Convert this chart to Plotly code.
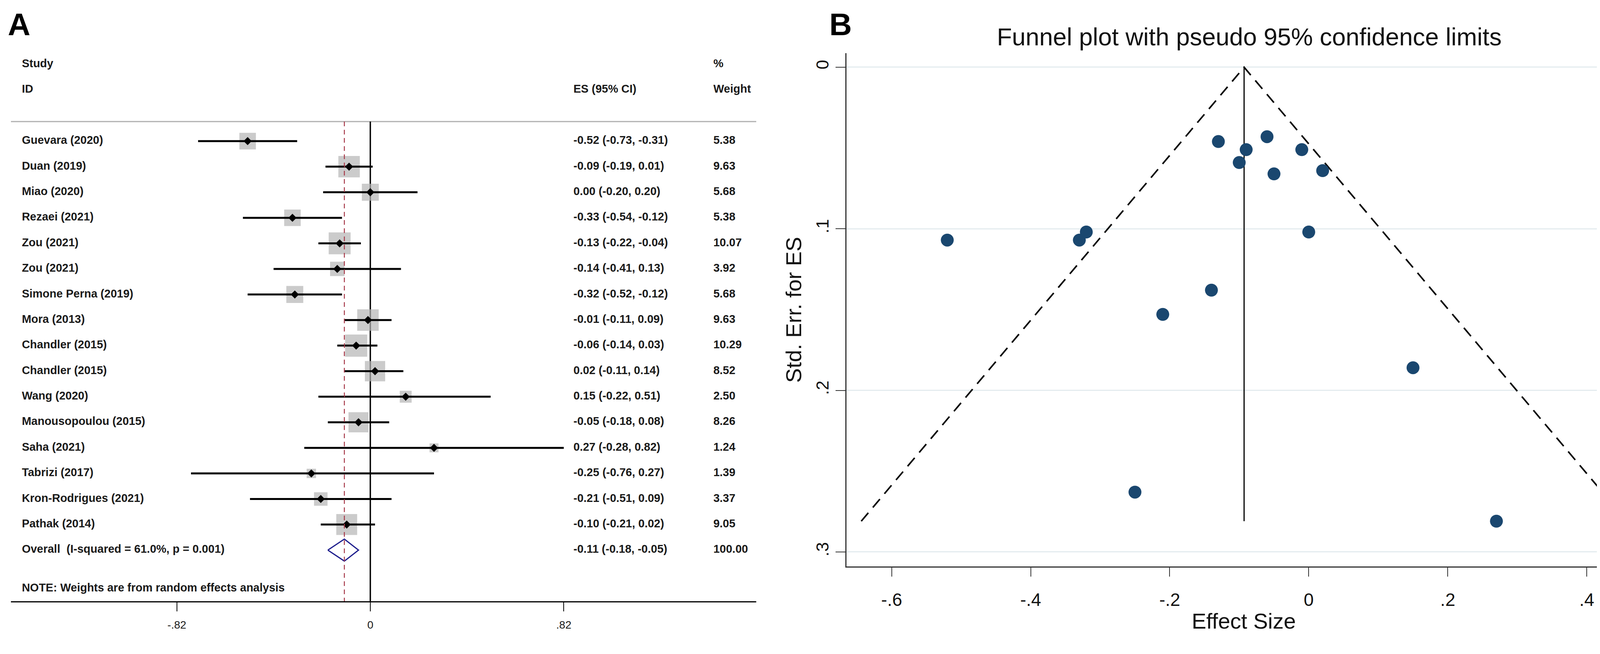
import plotly.graph_objects as go

# ---- data ----
studies = ["Guevara (2020)", "Duan (2019)", "Miao (2020)", "Rezaei (2021)", "Zou (2021)",
           "Zou (2021)", "Simone Perna (2019)", "Mora (2013)", "Chandler (2015)",
           "Chandler (2015)", "Wang (2020)", "Manousopoulou (2015)", "Saha (2021)",
           "Tabrizi (2017)", "Kron-Rodrigues (2021)", "Pathak (2014)"]
es = [-0.52, -0.09, 0.00, -0.33, -0.13, -0.14, -0.32, -0.01, -0.06, 0.02, 0.15, -0.05,
      0.27, -0.25, -0.21, -0.10]
ci_lo = [-0.73, -0.19, -0.20, -0.54, -0.22, -0.41, -0.52, -0.11, -0.14, -0.11, -0.22,
         -0.18, -0.28, -0.76, -0.51, -0.21]
ci_hi = [-0.31, 0.01, 0.20, -0.12, -0.04, 0.13, -0.12, 0.09, 0.03, 0.14, 0.51, 0.08,
         0.82, 0.27, 0.09, 0.02]
weights = [5.38, 9.63, 5.68, 5.38, 10.07, 3.92, 5.68, 9.63, 10.29, 8.52, 2.50, 8.26,
           1.24, 1.39, 3.37, 9.05]
overall_label = "Overall  (I-squared = 61.0%, p = 0.001)"
overall_es, overall_lo, overall_hi, overall_w = -0.11, -0.18, -0.05, 100.00
note_text = "NOTE: Weights are from random effects analysis"

# funnel plot: standard errors, fixed-effect pooled estimate
std_err = [0.107, 0.051, 0.102, 0.107, 0.046, 0.138, 0.102, 0.051, 0.043, 0.064, 0.186,
           0.066, 0.281, 0.263, 0.153, 0.059]
pooled_fixed = -0.093

forest_ticks = [-0.82, 0, 0.82]
forest_ticktext = ["-.82", "0", ".82"]
funnel_xticks = [-0.6, -0.4, -0.2, 0, 0.2, 0.4]
funnel_xticktext = ["-.6", "-.4", "-.2", "0", ".2", ".4"]
funnel_yticks = [0, 0.1, 0.2, 0.3]
funnel_yticktext = ["0", ".1", ".2", ".3"]

W, H = 4235, 1673
FONT = "Arial, Liberation Sans, sans-serif"

def py(px):
    return 1 - px / H

fig = go.Figure()

rows = list(range(len(studies)))
overall_row = len(studies)
note_row = overall_row + 1.5
top_row = -0.765     # grey rule under the column headers
bottom_row = 18.0    # where the axis sits
head_row = -3.6      # top of panel A plotting band

# ---- panel A: forest plot ----
fig.add_trace(go.Scatter(
    x=es, y=rows, mode="markers", xaxis="x", yaxis="y",
    marker=dict(symbol="square", color="#b5b5b5", size=[5 + 16.1 * w ** 0.5 for w in weights],
                line=dict(width=0)),
    hoverinfo="skip", showlegend=False))

ci_x, ci_y = [], []
for r, lo, hi in zip(rows, ci_lo, ci_hi):
    ci_x += [lo, hi, None]
    ci_y += [r, r, None]
fig.add_trace(go.Scatter(x=ci_x, y=ci_y, mode="lines", xaxis="x", yaxis="y",
                         line=dict(color="black", width=5), hoverinfo="skip", showlegend=False))

fig.add_trace(go.Scatter(x=es, y=rows, mode="markers", xaxis="x", yaxis="y",
                         marker=dict(symbol="diamond", color="black", size=16),
                         hoverinfo="skip", showlegend=False))

dh = 0.43
fig.add_trace(go.Scatter(
    x=[overall_lo, overall_es, overall_hi, overall_es, overall_lo],
    y=[overall_row, overall_row - dh, overall_row, overall_row + dh, overall_row],
    mode="lines", xaxis="x", yaxis="y", line=dict(color="#1c1c8c", width=3),
    hoverinfo="skip", showlegend=False))

label_x, es_col_x, w_col_x = -1.477, 0.861, 1.454
txt = dict(size=29, color="#1a1a1a", family=FONT, weight="bold")
left_text = ["Study", "ID"] + studies + [overall_label, note_text]
left_rows = [-3, -2] + rows + [overall_row, note_row]
fig.add_trace(go.Scatter(x=[label_x] * len(left_text), y=left_rows, text=left_text,
                         mode="text", textposition="middle right", textfont=txt,
                         xaxis="x", yaxis="y", cliponaxis=False, hoverinfo="skip",
                         showlegend=False))

es_text = ["ES (95% CI)"] + ["%.2f (%.2f, %.2f)" % (e, l, h) for e, l, h in zip(es, ci_lo, ci_hi)] \
    + ["%.2f (%.2f, %.2f)" % (overall_es, overall_lo, overall_hi)]
fig.add_trace(go.Scatter(x=[es_col_x] * len(es_text), y=[-2] + rows + [overall_row],
                         text=es_text, mode="text", textposition="middle right", textfont=txt,
                         xaxis="x", yaxis="y", cliponaxis=False, hoverinfo="skip",
                         showlegend=False))

w_text = ["%", "Weight"] + ["%.2f" % w for w in weights] + ["%.2f" % overall_w]
fig.add_trace(go.Scatter(x=[w_col_x] * len(w_text), y=[-3, -2] + rows + [overall_row],
                         text=w_text, mode="text", textposition="middle right", textfont=txt,
                         xaxis="x", yaxis="y", cliponaxis=False, hoverinfo="skip",
                         showlegend=False))

# ---- panel B: funnel plot ----
se_max = max(std_err)
fig.add_trace(go.Scatter(x=[pooled_fixed, pooled_fixed], y=[0, se_max], mode="lines",
                         xaxis="x2", yaxis="y2", line=dict(color="black", width=3),
                         hoverinfo="skip", showlegend=False))
fig.add_trace(go.Scatter(
    x=[pooled_fixed - 1.96 * se_max, pooled_fixed, pooled_fixed + 1.96 * se_max],
    y=[se_max, 0, se_max], mode="lines", xaxis="x2", yaxis="y2",
    line=dict(color="black", width=4, dash="28px,18px"), hoverinfo="skip", showlegend=False))
fig.add_trace(go.Scatter(x=es, y=std_err, mode="markers", xaxis="x2", yaxis="y2",
                         marker=dict(color="#1a476f", size=33), hoverinfo="skip",
                         showlegend=False))

shapes = [
    dict(type="line", xref="x domain", yref="y", x0=0, x1=1, y0=top_row, y1=top_row,
         line=dict(color="#b0b0b0", width=3), layer="below"),
    dict(type="line", xref="x", yref="y", x0=0, x1=0, y0=top_row, y1=bottom_row,
         line=dict(color="black", width=3.5), layer="below"),
    dict(type="line", xref="x", yref="y", x0=overall_es, x1=overall_es, y0=top_row,
         y1=bottom_row, line=dict(color="#a83a4a", width=2.5, dash="12px,9px"), layer="above"),
]

annotations = [
    dict(text="<b>A</b>", x=10 / W, y=py(55), xref="paper", yref="paper", xanchor="left",
         yanchor="middle", showarrow=False, font=dict(size=80, family=FONT, color="black")),
    dict(text="<b>B</b>", x=2113 / W, y=py(55), xref="paper", yref="paper", xanchor="left",
         yanchor="middle", showarrow=False, font=dict(size=80, family=FONT, color="black")),
    dict(text="Funnel plot with pseudo 95% confidence limits", x=3190 / W, y=py(86),
         xref="paper", yref="paper", xanchor="center", yanchor="middle", showarrow=False,
         font=dict(size=63, family=FONT, color="#111111")),
]

fig.update_layout(
    width=W, height=H, margin=dict(l=0, r=0, t=0, b=0),
    paper_bgcolor="white", plot_bgcolor="white",
    font=dict(family=FONT, color="black"),
    shapes=shapes, annotations=annotations,
    xaxis=dict(domain=[20 / W, 1928 / W], range=[-1.5232, 1.6358], showgrid=False,
               zeroline=False, showline=True, linecolor="black", linewidth=3,
               tickmode="array", tickvals=forest_ticks, ticktext=forest_ticktext,
               ticks="outside", ticklen=23, tickwidth=2, tickcolor="black",
               tickfont=dict(size=28, color="#1a1a1a"), ticklabelstandoff=10),
    yaxis=dict(domain=[py(1530), py(353 + head_row * 65.4)], range=[bottom_row, head_row],
               visible=False),
    xaxis2=dict(domain=[2159 / W, 4193 / W], range=[-0.665, 0.478], anchor="y2",
                showgrid=False, zeroline=False, showline=True, linecolor="#333333",
                linewidth=3, tickmode="array", tickvals=funnel_xticks,
                ticktext=funnel_xticktext, ticks="outside", ticklen=23, tickwidth=2,
                tickcolor="#333333", tickfont=dict(size=46, color="#111111"),
                ticklabelstandoff=20,
                title=dict(text="Effect Size", font=dict(size=56, color="#111111"),
                           standoff=10)),
    yaxis2=dict(domain=[py(1441), py(128)], range=[0.309, -0.0087], anchor="x2",
                showgrid=True, gridcolor="#e4ecef", gridwidth=3, zeroline=False,
                showline=True, linecolor="#333333", linewidth=3, tickmode="array",
                tickvals=funnel_yticks, ticktext=funnel_yticktext, tickangle=-90,
                ticks="outside", ticklen=25, tickwidth=2, tickcolor="#333333",
                tickfont=dict(size=44, color="#111111"),
                title=dict(text="Std. Err. for ES", font=dict(size=56, color="#111111"),
                           standoff=12)),
)

fig.write_html("out.html")
